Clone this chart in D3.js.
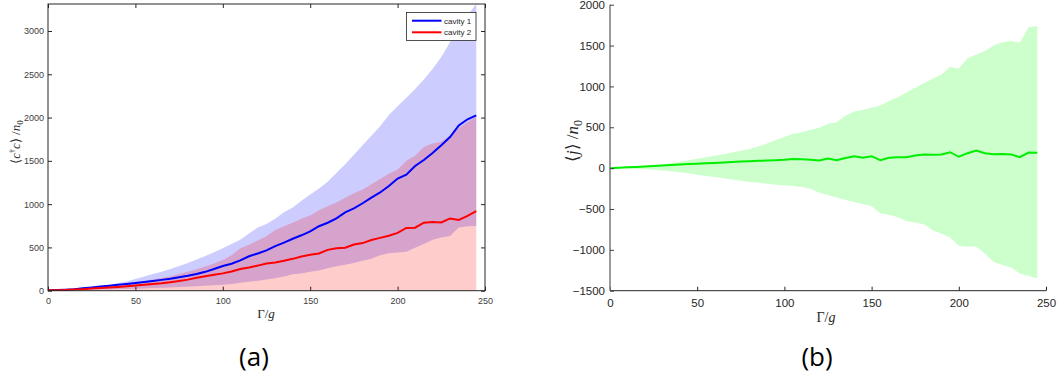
<!DOCTYPE html>
<html lang="en">
<head>
  <meta charset="UTF-8">
  <title>cavity occupations and current</title>
  <script src="https://d3js.org/d3.v7.min.js"></script>
  <style>
    body { margin: 0; background: #fff; }
    svg { display: block; }
  </style>
</head>
<body>
  <svg id="chart"></svg>

  <script>
    // Gamma / g sample points
    const gamma = [0, 5, 10, 15, 20, 25, 30, 35, 40, 45, 50, 55, 60, 65, 70, 75, 80, 85, 90, 95,
      100, 105, 110, 115, 120, 125, 130, 135, 140, 145, 150, 155, 160, 165, 170, 175, 180, 185, 190, 195,
      200, 205, 210, 215, 220, 225, 230, 235, 240, 245];

    // (a) cavity 1
    const blueMean = [5, 8, 12, 18, 28, 38, 48, 58, 68, 78, 88, 100, 112, 125, 138, 155, 172, 192, 218, 250,
      285, 312, 350, 398, 430, 465, 515, 555, 600, 640, 685, 745, 785, 835, 905, 950, 1010, 1075, 1135, 1210,
      1295, 1340, 1440, 1510, 1590, 1680, 1775, 1910, 1980, 2025];
    const blueHi = [6, 10, 16, 24, 33, 43, 54, 67, 85, 105, 135, 165, 192, 220, 250, 285, 320, 360, 400, 445,
      490, 540, 590, 660, 730, 770, 830, 905, 960, 1040, 1110, 1180, 1260, 1360, 1460, 1570, 1680, 1790, 1900, 2030,
      2130, 2230, 2330, 2440, 2560, 2700, 2870, 3050, 3180, 3315];
    const blueLo = [3, 4, 5, 7, 9, 11, 13, 15, 17, 20, 23, 26, 30, 34, 38, 42, 47, 52, 57, 62,
      68, 78, 93, 103, 115, 130, 143, 165, 190, 200, 220, 232, 260, 282, 300, 320, 345, 370, 410, 432,
      440, 450, 497, 540, 590, 615, 632, 730, 745, 748];

    // (a) cavity 2
    const redMean = [4, 6, 9, 13, 18, 24, 30, 37, 44, 52, 60, 68, 77, 86, 98, 112, 128, 150, 168, 185,
      200, 222, 250, 268, 290, 315, 325, 345, 368, 395, 415, 430, 472, 490, 497, 533, 550, 585, 610, 635,
      668, 725, 728, 785, 795, 788, 835, 818, 865, 920];
    const redHi = [5, 8, 12, 17, 23, 30, 38, 48, 60, 75, 92, 110, 128, 148, 168, 192, 218, 248, 280, 315,
      355, 410, 490, 530, 580, 630, 700, 745, 785, 830, 870, 930, 975, 1020, 1075, 1125, 1170, 1230, 1290, 1350,
      1400, 1500, 1560, 1660, 1700, 1720, 1790, 1880, 1950, 2010];
    const redLo = [2, 3, 4, 5, 6, 6, 6, 6, 5, 4, 3, 2, 1, 0, 0, 0, -5, -10, -15, -20,
      -25, -30, -40, -45, -50, -55, -50, -55, -50, -40, -40, -70, -30, -40, -80, -60, -70, -60, -70, -80,
      -65, -50, -100, -90, -110, -145, -120, -245, -220, -170];

    // (b) current
    const greenMean = [0, 5, 10, 15, 20, 27, 33, 38, 44, 50, 54, 59, 64, 69, 74, 80, 85, 89, 93, 97,
      102, 112, 108, 104, 94, 118, 97, 125, 146, 127, 146, 97, 127, 133, 134, 155, 168, 165, 167, 195,
      139, 183, 216, 183, 170, 172, 168, 134, 191, 188];
    const greenHi = [0, 6, 13, 20, 28, 36, 45, 60, 78, 96, 115, 133, 152, 170, 190, 212, 235, 265, 300, 345,
      382, 420, 440, 470, 495, 542, 560, 640, 692, 710, 738, 765, 820, 868, 926, 985, 1040, 1095, 1145, 1238,
      1218, 1345, 1390, 1434, 1500, 1540, 1555, 1535, 1725, 1740];
    const greenLo = [0, -3, -6, -10, -15, -21, -29, -38, -50, -62, -80, -95, -110, -125, -140, -155, -170, -180, -192, -203,
      -212, -220, -232, -252, -300, -330, -360, -390, -415, -440, -465, -555, -570, -600, -650, -665, -688, -760, -800, -850,
      -950, -962, -960, -1045, -1150, -1185, -1215, -1290, -1320, -1348];

    const xTicks = [0, 50, 100, 150, 200, 250];
    const yTicksA = [0, 500, 1000, 1500, 2000, 2500, 3000];
    const yTicksB = [-1500, -1000, -500, 0, 500, 1000, 1500, 2000];
    const legendNames = ["cavity 1", "cavity 2"];

    const width = 1059;
    const height = 381;

    const svg = d3.select("#chart")
      .attr("width", width)
      .attr("height", height);

    const tickFont = "'Liberation Sans', Arial, sans-serif";
    const mathFont = "'Liberation Serif', 'Times New Roman', serif";

    const rows = gamma.map((g, i) => ({
      g,
      bm: blueMean[i], bh: blueHi[i], bl: blueLo[i],
      rm: redMean[i], rh: redHi[i], rl: redLo[i],
      gm: greenMean[i], gh: greenHi[i], gl: greenLo[i]
    }));

    // ---------- panel (a) ----------
    const xA = d3.scaleLinear().domain([0, 250]).range([48, 485]);
    const yA = d3.scaleLinear().domain([0, 3312]).range([290.7, 4]);

    svg.append("clipPath").attr("id", "clipA")
      .append("rect")
      .attr("x", xA(0)).attr("y", yA(3312))
      .attr("width", xA(250) - xA(0)).attr("height", yA(0) - yA(3312));

    const gA = svg.append("g").attr("clip-path", "url(#clipA)");

    const bandA = (lo, hi) => d3.area()
      .x(d => xA(d.g))
      .y0(d => yA(d[lo]))
      .y1(d => yA(d[hi]));

    gA.append("path").datum(rows)
      .attr("d", bandA("bl", "bh"))
      .attr("fill", "#0000ff").attr("fill-opacity", 0.2);
    gA.append("path").datum(rows)
      .attr("d", bandA("rl", "rh"))
      .attr("fill", "#ff0000").attr("fill-opacity", 0.2);

    gA.append("path").datum(rows)
      .attr("d", d3.line().x(d => xA(d.g)).y(d => yA(d.bm)))
      .attr("fill", "none").attr("stroke", "#0000ff").attr("stroke-width", 2);
    gA.append("path").datum(rows)
      .attr("d", d3.line().x(d => xA(d.g)).y(d => yA(d.rm)))
      .attr("fill", "none").attr("stroke", "#ff0000").attr("stroke-width", 2);

    // box with inward ticks
    const axisColA = "#262626";
    svg.append("rect")
      .attr("x", xA(0)).attr("y", yA(3312))
      .attr("width", xA(250) - xA(0)).attr("height", yA(0) - yA(3312))
      .attr("fill", "none").attr("stroke", axisColA).attr("stroke-width", 1);

    svg.append("g")
      .attr("transform", `translate(0,${yA(0)})`)
      .call(d3.axisBottom(xA).tickValues(xTicks).tickSize(-4).tickPadding(7).tickFormat(d3.format("d")))
      .call(g => g.select(".domain").remove())
      .call(g => g.selectAll("line").attr("stroke", axisColA))
      .call(g => g.selectAll("text").attr("fill", "#404040").style("font", `9px ${tickFont}`));
    svg.append("g")
      .attr("transform", `translate(0,${yA(3312)})`)
      .call(d3.axisTop(xA).tickValues(xTicks).tickSize(-4).tickFormat(""))
      .call(g => g.select(".domain").remove())
      .call(g => g.selectAll("line").attr("stroke", axisColA));
    svg.append("g")
      .attr("transform", `translate(${xA(0)},0)`)
      .call(d3.axisLeft(yA).tickValues(yTicksA).tickSize(-4).tickPadding(4).tickFormat(d3.format("d")))
      .call(g => g.select(".domain").remove())
      .call(g => g.selectAll("line").attr("stroke", axisColA))
      .call(g => g.selectAll("text").attr("fill", "#404040").style("font", `9px ${tickFont}`));
    svg.append("g")
      .attr("transform", `translate(${xA(250)},0)`)
      .call(d3.axisRight(yA).tickValues(yTicksA).tickSize(-4).tickFormat(""))
      .call(g => g.select(".domain").remove())
      .call(g => g.selectAll("line").attr("stroke", axisColA));

    // legend
    const leg = svg.append("g").attr("transform", "translate(406.5,12.5)");
    leg.append("rect")
      .attr("width", 69.5).attr("height", 28)
      .attr("fill", "#fff").attr("stroke", axisColA).attr("stroke-width", 0.8);
    const legCols = ["#0000ff", "#ff0000"];
    legendNames.forEach((name, i) => {
      const y = 8.2 + i * 11.6;
      leg.append("line")
        .attr("x1", 5.5).attr("x2", 35).attr("y1", y).attr("y2", y)
        .attr("stroke", legCols[i]).attr("stroke-width", 2);
      leg.append("text")
        .attr("x", 37.5).attr("y", y).attr("dy", "0.35em")
        .attr("fill", "#262626")
        .style("font", `8px ${tickFont}`)
        .text(name);
    });

    // axis labels (a)
    const yLabA = svg.append("text")
      .attr("transform", "translate(20,142) rotate(-90)")
      .attr("text-anchor", "middle")
      .attr("fill", "#262626")
      .style("font-family", mathFont)
      .style("font-size", "13px");
    yLabA.append("tspan").text("\u27E8");
    yLabA.append("tspan").style("font-style", "italic").text("c");
    yLabA.append("tspan").attr("dy", "-5").style("font-size", "8px").text("\u2020");
    yLabA.append("tspan").attr("dy", "5").style("font-style", "italic").text("c");
    yLabA.append("tspan").text("\u27E9 /");
    yLabA.append("tspan").style("font-style", "italic").text("n");
    yLabA.append("tspan").attr("dy", "3").style("font-size", "9px").text("0");

    const xLabA = svg.append("text")
      .attr("x", 266).attr("y", 318)
      .attr("text-anchor", "middle")
      .attr("fill", "#262626")
      .style("font-family", mathFont)
      .style("font-size", "13px");
    xLabA.append("tspan").text("\u0393/");
    xLabA.append("tspan").style("font-style", "italic").text("g");

    // ---------- panel (b) ----------
    const xB = d3.scaleLinear().domain([0, 250]).range([610, 1046]);
    const yB = d3.scaleLinear().domain([-1500, 2000]).range([290.7, 4.7]);

    const gB = svg.append("g");
    gB.append("path").datum(rows)
      .attr("d", d3.area().x(d => xB(d.g)).y0(d => yB(d.gl)).y1(d => yB(d.gh)))
      .attr("fill", "#00ff00").attr("fill-opacity", 0.2);
    gB.append("path").datum(rows)
      .attr("d", d3.line().x(d => xB(d.g)).y(d => yB(d.gm)))
      .attr("fill", "none").attr("stroke", "#00ee00").attr("stroke-width", 2);

    svg.append("g")
      .attr("transform", `translate(0,${yB(-1500)})`)
      .call(d3.axisBottom(xB).tickValues(xTicks).tickSize(-4).tickPadding(8).tickFormat(d3.format("d")))
      .call(g => g.select(".domain").attr("stroke", "#262626").attr("d", `M${xB(0)},0H${xB(250)}`))
      .call(g => g.selectAll("line").attr("stroke", "#262626"))
      .call(g => g.selectAll("text").attr("fill", "#262626").style("font", `11.5px ${tickFont}`));
    svg.append("g")
      .attr("transform", `translate(${xB(0)},0)`)
      .call(d3.axisLeft(yB).tickValues(yTicksB).tickSize(-4).tickPadding(5).tickFormat(d3.format("d")))
      .call(g => g.select(".domain").attr("stroke", "#808080").attr("stroke-width", 1.6)
        .attr("d", `M0,${yB(-1500)}V${yB(2000)}`))
      .call(g => g.selectAll("line").attr("stroke", "#404040"))
      .call(g => g.selectAll("text").attr("fill", "#262626").style("font", `11.5px ${tickFont}`));

    const yLabB = svg.append("text")
      .attr("transform", "translate(578,141) rotate(-90)")
      .attr("text-anchor", "middle")
      .attr("fill", "#262626")
      .style("font-family", mathFont)
      .style("font-size", "17px");
    yLabB.append("tspan").text("\u27E8");
    yLabB.append("tspan").style("font-style", "italic").text("j");
    yLabB.append("tspan").text("\u27E9 /");
    yLabB.append("tspan").style("font-style", "italic").text("n");
    yLabB.append("tspan").attr("dy", "3.5").style("font-size", "12px").text("0");

    const xLabB = svg.append("text")
      .attr("x", 826).attr("y", 322)
      .attr("text-anchor", "middle")
      .attr("fill", "#262626")
      .style("font-family", mathFont)
      .style("font-size", "14px");
    xLabB.append("tspan").text("\u0393/");
    xLabB.append("tspan").style("font-style", "italic").text("g");

    // panel letters
    svg.append("text")
      .attr("x", 254).attr("y", 366)
      .attr("text-anchor", "middle")
      .attr("fill", "#000")
      .style("font", "26px 'Open Sans', 'Noto Sans', sans-serif")
      .text("(a)");
    svg.append("text")
      .attr("x", 817).attr("y", 366)
      .attr("text-anchor", "middle")
      .attr("fill", "#000")
      .style("font", "26px 'Open Sans', 'Noto Sans', sans-serif")
      .text("(b)");
  </script>
</body>
</html>
